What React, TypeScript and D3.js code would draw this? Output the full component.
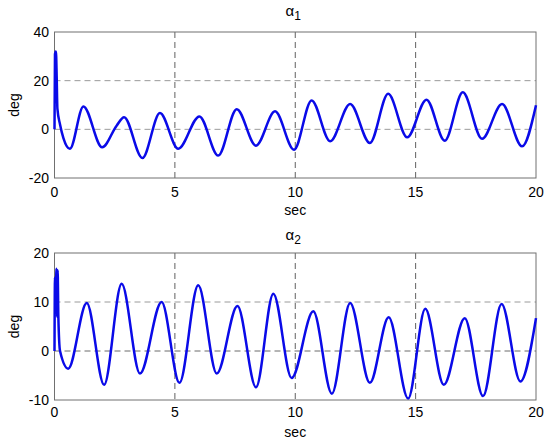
import React from "react";
import * as d3 from "d3";

const xTicks = [0, 5, 10, 15, 20];
const topYTicks = [-20, 0, 20, 40];
const botYTicks = [-10, 0, 10, 20];

const alpha1Time = [0, 0.02, 0.06, 0.09, 0.12, 0.23, 0.37, 0.64, 1.2, 1.98, 2.58, 2.89, 3.65, 4.38, 5.14, 6.02, 6.8, 7.57, 8.37, 9.16, 9.95, 10.68, 11.45, 12.28, 13.1, 13.86, 14.65, 15.45, 16.21, 16.96, 17.76, 18.59, 19.42, 20];
const alpha1Value = [0, 31, 32, 22, 8.5, 2, -3.6, -8, 9.4, -7.4, 1.5, 5, -11.8, 6.7, -8, 5.3, -10.8, 8.3, -6.7, 7.4, -8.4, 11.9, -4.9, 10.4, -5.6, 14.6, -3.3, 12.2, -4.7, 15.2, -3.9, 10.4, -7, 9.9];

const alpha2Time = [0, 0.02, 0.05, 0.08, 0.11, 0.13, 0.16, 0.23, 0.57, 1.34, 2.06, 2.79, 3.55, 4.45, 5.19, 5.97, 6.74, 7.6, 8.37, 9.09, 9.85, 10.75, 11.52, 12.28, 13.1, 13.88, 14.69, 15.4, 16.17, 17.04, 17.8, 18.57, 19.35, 20];
const alpha2Value = [0, 15, 8, 16.8, 7, 16.5, 7, 0, -3.6, 9.8, -6.9, 13.7, -4.6, 10, -6.5, 13.4, -4.6, 9.2, -7.4, 11.7, -5.5, 8.1, -8.7, 9.8, -6.5, 6.9, -9.7, 8.6, -6.9, 6.7, -9.2, 9.6, -6.2, 6.7];

const FONT = "'Liberation Sans', Arial, Helvetica, sans-serif";

type PanelProps = {
  top: number;
  bottom: number;
  yDomain: [number, number];
  yTicks: number[];
  times: number[];
  values: number[];
  sub: string;
  titleY: number;
  tickLabelY: number;
  xLabelY: number;
  darkZero?: boolean;
};

const X0 = 54.5;
const X1 = 536;

function Panel(p: PanelProps) {
  const x = d3.scaleLinear().domain([0, 20]).range([X0, X1]);
  const y = d3.scaleLinear().domain(p.yDomain).range([p.bottom, p.top]);
  const pts: [number, number][] = p.times.map((t, i) => [t, p.values[i]]);
  const line = d3
    .line<[number, number]>()
    .x((d) => x(d[0]))
    .y((d) => y(d[1]))
    .curve(d3.curveMonotoneX);
  const cx = (X0 + X1) / 2;
  const cy = (p.top + p.bottom) / 2;
  return (
    <g>
      {p.yTicks
        .filter((v) => v !== p.yDomain[0] && v !== p.yDomain[1])
        .map((v) => (
          <line
            key={"h" + v}
            x1={X0}
            x2={X1}
            y1={y(v)}
            y2={y(v)}
            stroke={p.darkZero && v === 0 ? "#6a6a6a" : "#9a9a9a"}
            strokeWidth={1}
            strokeDasharray="6,4"
          />
        ))}
      {xTicks
        .filter((v) => v !== 0 && v !== 20)
        .map((v) => (
          <line
            key={"v" + v}
            x1={x(v)}
            x2={x(v)}
            y1={p.top}
            y2={p.bottom}
            stroke="#606060"
            strokeWidth={1}
            strokeDasharray="6,4"
          />
        ))}
      <rect
        x={X0}
        y={p.top}
        width={X1 - X0}
        height={p.bottom - p.top}
        fill="none"
        stroke="#707070"
        strokeWidth={1}
      />
      <path d={line(pts) || ""} fill="none" stroke="#0a0ae8" strokeWidth={2.5} strokeLinejoin="round" />
      {xTicks.map((v) => (
        <text key={"xt" + v} x={x(v)} y={p.tickLabelY} textAnchor="middle" fontSize={14} fontFamily={FONT} fill="#000">
          {v}
        </text>
      ))}
      {p.yTicks.map((v) => (
        <text key={"yt" + v} x={49} y={y(v) + 5} textAnchor="end" fontSize={14} fontFamily={FONT} fill="#000">
          {v}
        </text>
      ))}
      <text x={cx} y={p.xLabelY} textAnchor="middle" fontSize={14} fontFamily={FONT} fill="#000">
        sec
      </text>
      <text
        transform={`translate(19,${cy}) rotate(-90)`}
        textAnchor="middle"
        fontSize={14}
        fontFamily={FONT}
        fill="#000"
      >
        deg
      </text>
      <text x={cx - 2} y={p.titleY} textAnchor="middle" fontSize={15} fontFamily={FONT} fill="#000">
        α
        <tspan fontSize={12} dy={4}>
          {p.sub}
        </tspan>
      </text>
    </g>
  );
}

export default function App() {
  return (
    <div style={{ position: "absolute", left: 0, top: 0, width: 550, height: 445, background: "#fff" }}>
      <svg width={550} height={445} viewBox="0 0 550 445">
        <rect x={0} y={0} width={550} height={445} fill="#fff" />
        <Panel
          top={32}
          bottom={178}
          yDomain={[-20, 40]}
          yTicks={topYTicks}
          times={alpha1Time}
          values={alpha1Value}
          sub="1"
          titleY={16}
          tickLabelY={197}
          xLabelY={215}
        />
        <Panel
          top={253}
          bottom={400}
          yDomain={[-10, 20]}
          yTicks={botYTicks}
          times={alpha2Time}
          values={alpha2Value}
          sub="2"
          titleY={240}
          tickLabelY={417}
          xLabelY={437}
          darkZero
        />
      </svg>
    </div>
  );
}
